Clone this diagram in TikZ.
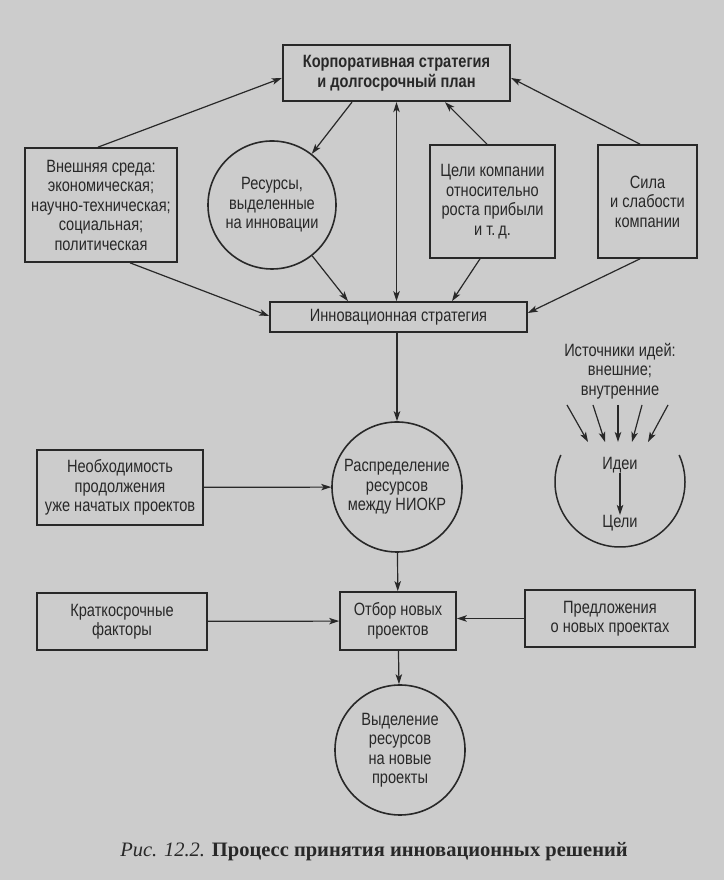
\documentclass[tikz,border=0pt]{standalone}
\usepackage{fontspec}
\setmainfont{Liberation Sans}[FakeStretch=0.82]
\newfontfamily\capfont{Liberation Serif}
\usetikzlibrary{arrows.meta}
\definecolor{paper}{RGB}{204,204,204}
\definecolor{ink}{RGB}{40,40,40}
\begin{document}
\begin{tikzpicture}[x=1pt,y=1pt,
  txt/.style={font=\fontsize{17.8}{19.5}\selectfont, text=ink, align=center, inner sep=0pt},
  box/.style={txt, draw=ink, line width=1.7pt, rectangle},
  rnd/.style={txt, draw=ink, line width=1.6pt, circle},
  tip/.tip={Stealth[length=10pt,width=6.5pt,inset=2.5pt]},
  arr/.style={draw=ink, line width=1.2pt, -tip},
  darr/.style={draw=ink, line width=1.2pt, tip-tip}]
\fill[paper] (0,0) rectangle (724,880);
\useasboundingbox (0,0) rectangle (724,880);

\node[box, line width=2.3pt, minimum width=227pt, minimum height=56pt,
      font=\fontsize{17.8}{19.5}\selectfont\bfseries] (corp) at (396.5,807)
      {Корпоративная стратегия\\и долгосрочный план};
\node[box, minimum width=152pt, minimum height=114pt] (env) at (101,675)
      {Внешняя среда:\\экономическая;\\научно-техническая;\\социальная;\\политическая};
\node[rnd, minimum size=128pt] (res) at (272,675)
      {Ресурсы,\\выделенные\\на инновации};
\node[box, minimum width=125pt, minimum height=113pt] (goals) at (492.5,678.5)
      {Цели компании\\относительно\\роста прибыли\\и т.\,д.};
\node[box, minimum width=99pt, minimum height=113pt] (str) at (647.5,678.5)
      {Сила\\и слабости\\компании};
\node[box, minimum width=257pt, minimum height=30pt] (innov) at (398.5,563)
      {Инновационная стратегия};

\node[txt] (src) at (620,509) {Источники идей:\\внешние;\\внутренние};
\coordinate (ideac) at (620,398);
\draw[ink, line width=1.5pt] (ideac) ++(155.5:65pt) arc[start angle=155.5, end angle=384.5, radius=65pt];
\node[txt] (ideas) at (620,415) {Идеи};
\node[txt] (cel) at (620,357) {Цели};
\draw[arr] (ideas) -- (cel);
\coordinate (s1) at (567,475); \coordinate (e1) at (588,438);
\coordinate (s2) at (593,475); \coordinate (e2) at (605,438);
\coordinate (s3) at (618,475); \coordinate (e3) at (618,438);
\coordinate (s4) at (642,475); \coordinate (e4) at (632,438);
\coordinate (s5) at (668,475); \coordinate (e5) at (648,438);
\foreach \i in {1,...,5} {\draw[arr] (s\i) -- (e\i);}

\node[rnd, minimum size=130pt] (dist) at (397,393)
      {Распределение\\ресурсов\\между НИОКР};
\node[box, minimum width=166pt, minimum height=75pt] (need) at (120,392.5)
      {Необходимость\\продолжения\\уже начатых проектов};
\node[box, minimum width=170pt, minimum height=57pt] (short) at (122,258.5)
      {Краткосрочные\\факторы};
\node[box, minimum width=116pt, minimum height=58pt] (sel) at (398,259)
      {Отбор новых\\проектов};
\node[box, minimum width=170pt, minimum height=57pt] (prop) at (610,261.5)
      {Предложения\\о новых проектах};
\node[rnd, minimum size=130pt] (alloc) at (400,130)
      {Выделение\\ресурсов\\на новые\\проекты};

\node[font=\capfont\fontsize{20.5}{22}\selectfont, text=ink, inner sep=0pt] (cap) at (374,28)
      {\textit{Рис. 12.2.} \textbf{Процесс принятия инновационных решений}};

% connectors
\draw[arr] ([xshift=-3pt]env.north) -- ([yshift=-5pt]corp.west);
\draw[arr] ([xshift=-7.5pt]str.north) -- ([yshift=-5pt]corp.east);
\draw[arr] ([xshift=-44.5pt]corp.south) -- (res);
\draw[darr] (corp.south) -- (corp.south |- innov.north);
\draw[arr] ([xshift=-5.5pt]goals.north) -- ([xshift=48.5pt]corp.south);
\draw[arr] ([xshift=29pt]env.south) -- ([yshift=1pt]innov.west);
\draw[arr] (res) -- ([xshift=-50.5pt]innov.north);
\draw[arr] ([xshift=-12.5pt]goals.south) -- ([xshift=53.5pt]innov.north);
\draw[arr] ([xshift=-7.5pt]str.south) -- ([yshift=4pt]innov.east);
\draw[arr] (innov.south -| dist.north) -- (dist.north);
\draw[arr] (need) -- (dist);
\draw[arr] (dist) -- (sel);
\draw[arr] (short) -- (sel);
\draw[arr] (prop.west) -- (prop.west -| sel.east);
\draw[arr] (sel) -- (alloc);
\end{tikzpicture}
\end{document}
